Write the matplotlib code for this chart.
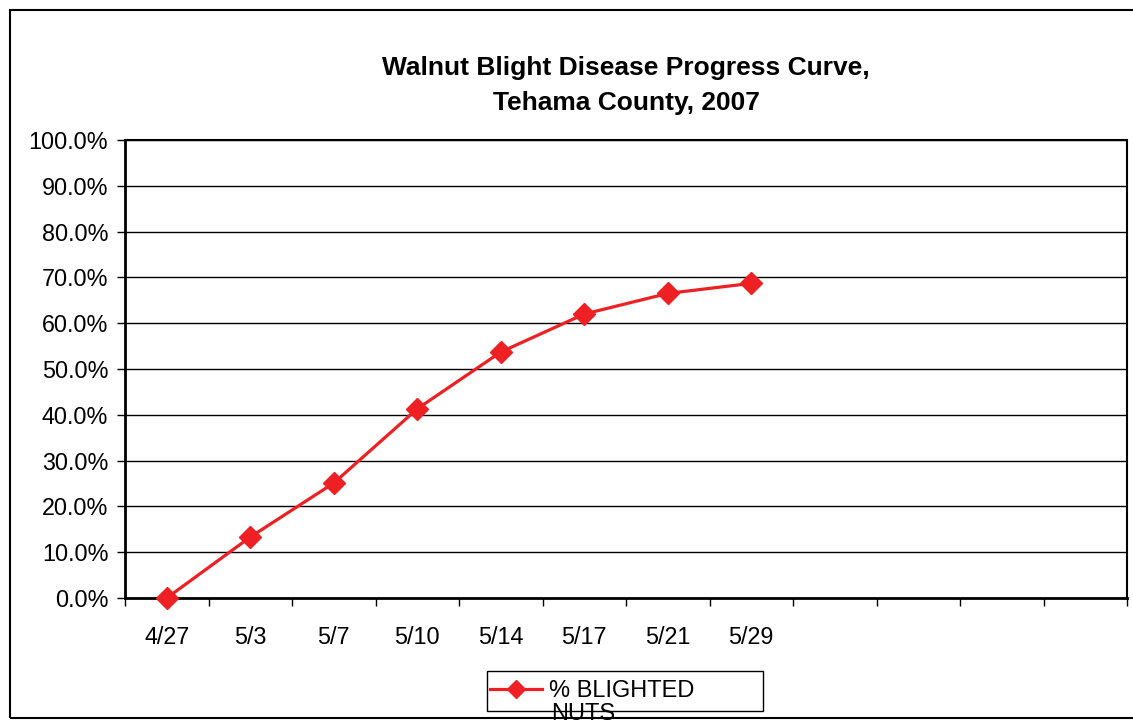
import matplotlib.pyplot as plt
from matplotlib.patches import Rectangle
from matplotlib.lines import Line2D
from matplotlib.ticker import FixedLocator, PercentFormatter

plt.rcParams['font.family'] = ['Liberation Sans', 'DejaVu Sans']

# data
dates = ["4/27", "5/3", "5/7", "5/10", "5/14", "5/17", "5/21", "5/29"]
blighted = [0.0, 13.3, 25.1, 41.3, 53.7, 62.0, 66.5, 68.7]
n_slots = 12  # excel category axis has 4 empty slots on the right

W, H = 1133, 727
fig = plt.figure(figsize=(W / 100, H / 100), dpi=100)
ax = fig.add_axes([125 / W, 1 - 598 / H, 1002 / W, 458 / H])

red = '#EE2024'
x = list(range(len(dates)))
ax.plot(x, blighted, color=red, lw=2.3, marker='D', ms=11.5, mec=red, mfc=red,
        clip_on=False, zorder=3)

ax.set_xlim(-0.5, n_slots - 0.5)
ax.set_ylim(0, 100)

# y axis
ax.yaxis.set_major_locator(FixedLocator(range(0, 101, 10)))
ax.yaxis.set_major_formatter(PercentFormatter(decimals=1))
ax.grid(axis='y', color='black', lw=1)
ax.tick_params(axis='y', length=6, width=1, pad=6, labelsize=16.8)

# x axis: ticks between categories, labels at category centres
ax.xaxis.set_major_locator(FixedLocator([i - 0.5 for i in range(n_slots + 1)]))
ax.xaxis.set_minor_locator(FixedLocator(x))
ax.set_xticklabels([])
ax.set_xticklabels(dates, minor=True)
ax.tick_params(axis='x', which='major', length=6, width=1)
ax.tick_params(axis='x', which='minor', length=0, pad=20, labelsize=16.8)

for s in ['left', 'bottom']:
    ax.spines[s].set_linewidth(2)
for s in ['top', 'right']:
    ax.spines[s].set_linewidth(1.5)

# title
cx = 626 / W
fig.text(cx, 1 - 75 / H, "Walnut Blight Disease Progress Curve,", ha='center',
         va='baseline', fontsize=19, fontweight='bold')
fig.text(cx, 1 - 110 / H, "Tehama County, 2007", ha='center',
         va='baseline', fontsize=19, fontweight='bold')

# outer chart frame (right edge runs off the image)
fig.patches.append(Rectangle((10 / W, 1 - 718 / H), 1.2, 708 / H,
                             transform=fig.transFigure, fill=False,
                             ec='black', lw=1.5))

# legend box, label wraps out of it like in the original
fig.patches.append(Rectangle((487 / W, 1 - 711 / H), 276 / W, 40 / H,
                             transform=fig.transFigure, fill=False,
                             ec='black', lw=1))
handle = Line2D([], [], color=red, lw=2.3, marker='D', ms=9, mfc=red, mec=red)
fig.legend([handle], ["% BLIGHTED"], loc='center left', frameon=False,
           bbox_to_anchor=(490 / W, 1 - 691 / H), fontsize=17,
           handlelength=2.2, handletextpad=0.3, borderpad=0, borderaxespad=0)
fig.text(551 / W, 1 - 720 / H, "NUTS", fontsize=17, va='baseline')

fig.savefig('out.png', dpi=100)
